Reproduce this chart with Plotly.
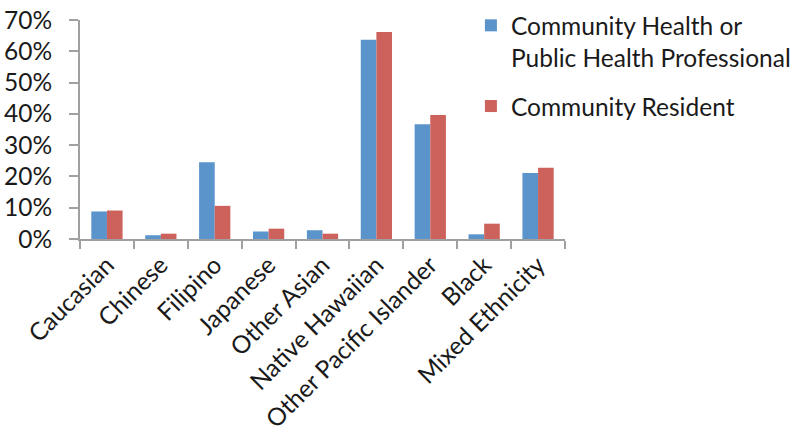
import plotly.graph_objects as go

categories = ["Caucasian", "Chinese", "Filipino", "Japanese", "Other Asian",
              "Native Hawaiian", "Other Pacific Islander", "Black", "Mixed Ethnicity"]
professional = [0.088, 0.012, 0.245, 0.024, 0.028, 0.637, 0.367, 0.015, 0.211]
resident = [0.091, 0.017, 0.106, 0.033, 0.017, 0.662, 0.396, 0.049, 0.228]
series_names = ["Community Health or<br>Public Health Professional", "Community Resident"]
y_ticks = [0, 0.1, 0.2, 0.3, 0.4, 0.5, 0.6, 0.7]

FONT = "Lato, Carlito, Calibri, sans-serif"
FONT_SIZE = 24.5
TEXT = "#1a1a1a"
AXIS_GREY = "#A0A0A0"

fig = go.Figure()
fig.add_trace(go.Bar(x=categories, y=professional, name=series_names[0],
                     legendgroup="pro",
                     marker=dict(color="#5B93CB", line=dict(width=0))))
fig.add_trace(go.Bar(x=categories, y=resident, name=series_names[1],
                     legendgroup="res",
                     marker=dict(color="#CD625C", line=dict(width=0))))

fig.update_layout(
    width=793, height=434,
    margin=dict(l=80, r=228, t=20, b=195, autoexpand=False),
    paper_bgcolor="white", plot_bgcolor="white",
    barmode="group", bargap=0.42, bargroupgap=0,
    font=dict(family=FONT, size=FONT_SIZE, color=TEXT),
    showlegend=True,
    legend=dict(x=0.806, xanchor="left", y=1.078, yanchor="top",
                font=dict(family=FONT, size=FONT_SIZE, color=TEXT),
                valign="top", traceorder="grouped", tracegroupgap=14,
                bgcolor="rgba(0,0,0,0)"),
    xaxis=dict(showline=True, linecolor=AXIS_GREY, linewidth=2,
               ticks="outside", tickson="boundaries", ticklen=8,
               tickcolor=AXIS_GREY, tickwidth=2, tickangle=-45,
               showgrid=False, automargin=False,
               tickfont=dict(size=FONT_SIZE)),
    yaxis=dict(range=[0, 0.7], tickvals=y_ticks, tickformat=".0%",
               showline=True, linecolor=AXIS_GREY, linewidth=2,
               ticks="outside", ticklen=9, tickcolor=AXIS_GREY, tickwidth=2,
               ticklabelstandoff=12, showgrid=False, zeroline=False,
               automargin=False, tickfont=dict(size=FONT_SIZE)),
)

fig.write_html("out.html")
